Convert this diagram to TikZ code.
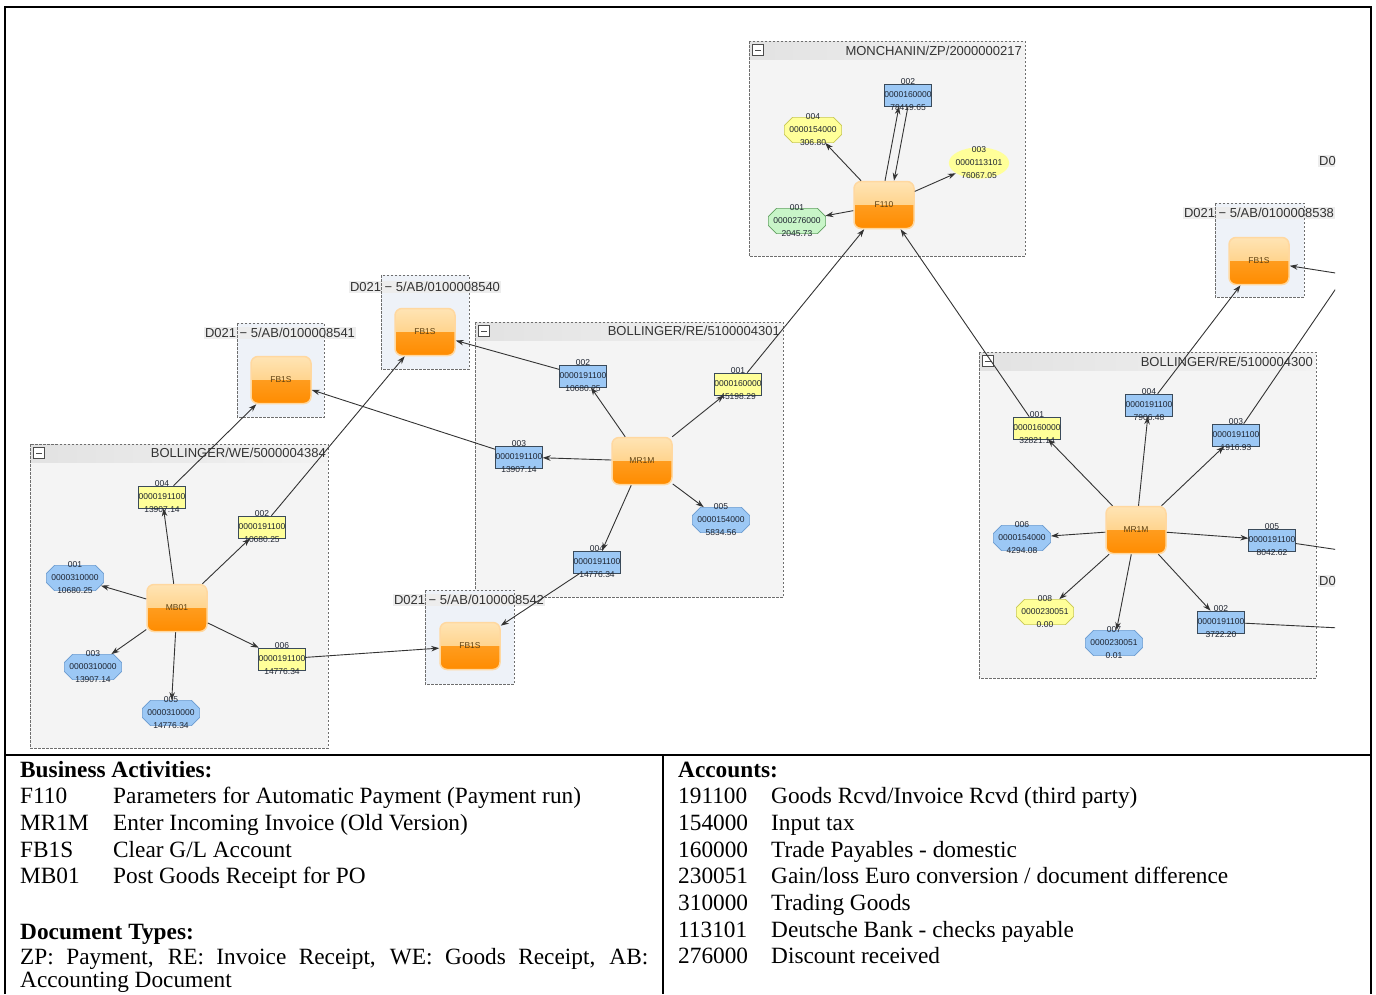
\documentclass[tikz,border=0pt]{standalone}
\usepackage{fontspec}
\setmainfont{Liberation Serif}
\setsansfont{Liberation Sans}
\usetikzlibrary{arrows.meta,shapes.geometric,shapes.misc}
\definecolor{grpfill}{HTML}{F4F4F4}
\definecolor{abfill}{HTML}{EEF2F8}
\definecolor{barleft}{HTML}{E2E2E2}
\definecolor{barright}{HTML}{F2F2F2}
\definecolor{labfill}{HTML}{EDEDED}
\definecolor{grpedge}{HTML}{6E6E6E}
\definecolor{titletext}{HTML}{333333}
\definecolor{accyellow}{HTML}{FFFF99}
\definecolor{accblue}{HTML}{9CC8F5}
\definecolor{accgreen}{HTML}{C8F5C8}
\definecolor{rectedge}{HTML}{3A4A5A}
\definecolor{hexblue}{HTML}{6A9AD0}
\definecolor{hexyellow}{HTML}{C8C850}
\definecolor{hexgreen}{HTML}{60A060}
\definecolor{acctext}{HTML}{1E2430}
\definecolor{acttop}{HTML}{FFE4B4}
\definecolor{actmid}{HTML}{FFC468}
\definecolor{actlow}{HTML}{FF9C1E}
\definecolor{actbot}{HTML}{FF8C00}
\definecolor{actedge}{HTML}{FFD8A0}
\definecolor{acttext}{HTML}{5E4010}
\definecolor{linkcol}{HTML}{333333}
\begin{document}
\begin{tikzpicture}[x=1pt,y=-1pt,>={Stealth[length=8pt,width=5.5pt]},font=\sffamily]
  \tikzset{
    grpbg/.style={fill=grpfill},
    abbg/.style={fill=abfill},
    grpbar/.style={left color=barleft, right color=barright},
    grpline/.style={draw=grpedge, line width=0.6pt, dash pattern=on 2.5pt off 1.5pt},
    foldbox/.style={draw=gray!60!black, fill=white, minimum size=11pt, inner sep=0pt, line width=0.5pt,
      path picture={\draw[line width=0.9pt] ([xshift=2.5pt]path picture bounding box.west) -- ([xshift=-2.5pt]path picture bounding box.east);}},
    grptitle/.style={font=\sffamily\fontsize{13}{13}\selectfont, text=titletext, inner sep=0pt},
    ablabel/.style={grptitle, fill=labfill, inner xsep=1pt, inner ysep=1.5pt},
    act/.style={rounded corners=7pt, minimum width=60pt, minimum height=47pt, inner sep=0pt,
      draw=actedge, line width=1.5pt, text=acttext, font=\sffamily\fontsize{8.5}{9}\selectfont,
      path picture={
        \shade[sharp corners, top color=acttop, bottom color=actmid] (path picture bounding box.north west) rectangle (path picture bounding box.east);
        \shade[sharp corners, top color=actlow, bottom color=actbot] (path picture bounding box.west) rectangle (path picture bounding box.south east);
      }},
    acc/.style={draw=rectedge, line width=0.6pt, inner xsep=0pt, inner ysep=-5pt, align=center,
      text=acctext, font=\sffamily\fontsize{8.5}{13}\selectfont},
    accy/.style={acc, fill=accyellow},
    accb/.style={acc, fill=accblue},
    hexb/.style={acc, chamfered rectangle, chamfered rectangle xsep=5pt, inner ysep=-6.5pt, draw=hexblue, fill=accblue},
    hexy/.style={acc, chamfered rectangle, chamfered rectangle xsep=5pt, inner ysep=-6.5pt, draw=hexyellow, fill=accyellow},
    hexg/.style={acc, chamfered rectangle, chamfered rectangle xsep=5pt, inner ysep=-6.5pt, draw=hexgreen, fill=accgreen},
    ellip/.style={acc, ellipse, draw=none, fill=accyellow, inner xsep=-2pt, inner ysep=-5pt},
    link/.style={draw=linkcol, line width=0.9pt, ->},
    plainlink/.style={draw=linkcol, line width=0.9pt},
    legtext/.style={font=\rmfamily\fontsize{23.3}{26.7}\selectfont, anchor=base west, inner sep=0pt},
  }
  \useasboundingbox (0,0) rectangle (1376,994);

  \begin{scope}
    \clip (5,7) rectangle (1335,755);
    % document groups
    \fill[grpbg] (749,41) rectangle (1025,256);
    \shade[grpbar] (749,41) rectangle (1025,59);
    \draw[grpline] (749,41) rectangle (1025,256);
    \node[foldbox] (zpfold) at (758,50) {};
    \node[grptitle, anchor=east] (zptitle) at (1022,51) {MONCHANIN/ZP/2000000217};

    \fill[grpbg] (475,322) rectangle (783,597);
    \shade[grpbar] (475,322) rectangle (783,340);
    \draw[grpline] (475,322) rectangle (783,597);
    \node[foldbox] (re1fold) at (484,331) {};
    \node[grptitle, anchor=east] (re1title) at (780,331) {BOLLINGER/RE/5100004301};

    \fill[grpbg] (30,444) rectangle (328,748);
    \shade[grpbar] (30,444) rectangle (328,462);
    \draw[grpline] (30,444) rectangle (328,748);
    \node[foldbox] (wefold) at (39,453) {};
    \node[grptitle, anchor=east] (wetitle) at (326,453) {BOLLINGER/WE/5000004384};

    \fill[grpbg] (979,352) rectangle (1316,678);
    \shade[grpbar] (979,352) rectangle (1316,370);
    \draw[grpline] (979,352) rectangle (1316,678);
    \node[foldbox] (re0fold) at (988,361) {};
    \node[grptitle, anchor=east] (re0title) at (1313,362) {BOLLINGER/RE/5100004300};

    \fill[abbg] (381,275) rectangle (469,369);
    \node[ablabel] (ab0label) at (425,287) {D021 − 5/AB/0100008540};
    \draw[grpline] (381,275) rectangle (469,369);

    \fill[abbg] (237,323) rectangle (324,417);
    \node[ablabel] (ab1label) at (280,333) {D021 − 5/AB/0100008541};
    \draw[grpline] (237,323) rectangle (324,417);

    \fill[abbg] (425,590) rectangle (514,684);
    \node[ablabel] (ab2label) at (469,600) {D021 − 5/AB/0100008542};
    \draw[grpline] (425,590) rectangle (514,684);

    \fill[abbg] (1215,203) rectangle (1304,297);
    \node[ablabel] (ab8label) at (1259,213) {D021 − 5/AB/0100008538};
    \draw[grpline] (1215,203) rectangle (1304,297);

    \node[ablabel, anchor=west] (cut1) at (1318,161) {D0};
    \node[ablabel, anchor=west] (cut2) at (1318,581) {D0};

    % activities
    \node[act] (f110) at (884,205) {F110};
    \node[act] (mrA) at (642,461) {MR1M};
    \node[act] (mb01) at (177,608) {MB01};
    \node[act] (mrB) at (1136,530) {MR1M};
    \node[act] (fbA) at (425,332) {FB1S};
    \node[act] (fbB) at (281,380) {FB1S};
    \node[act] (fbC) at (470,646) {FB1S};
    \node[act] (fbD) at (1259,261) {FB1S};

    % line items
    \node[hexg] (z1) at (797,221) {001\\0000276000\\2045.73};
    \node[accb] (z2) at (908,95) {002\\0000160000\\78419.65};
    \node[ellip] (z3) at (979,163) {003\\0000113101\\76067.05};
    \node[hexy] (z4) at (813,130) {004\\0000154000\\306.80};

    \node[accy] (r1) at (738,384) {001\\0000160000\\45198.29};
    \node[accb] (r2) at (583,376) {002\\0000191100\\10680.25};
    \node[accb] (r3) at (519,457) {003\\0000191100\\13907.14};
    \node[accb] (r4) at (597,562) {004\\0000191100\\14776.34};
    \node[hexb] (r5) at (721,520) {005\\0000154000\\5834.56};

    \node[hexb] (w1) at (75,578) {001\\0000310000\\10680.25};
    \node[accy] (w2) at (262,527) {002\\0000191100\\10680.25};
    \node[hexb] (w3) at (93,667) {003\\0000310000\\13907.14};
    \node[accy] (w4) at (162,497) {004\\0000191100\\13907.14};
    \node[hexb] (w5) at (171,713) {005\\0000310000\\14776.34};
    \node[accy] (w6) at (282,659) {006\\0000191100\\14776.34};

    \node[accy] (s1) at (1037,428) {001\\0000160000\\32821.14};
    \node[accb] (s2) at (1221,622) {002\\0000191100\\3722.20};
    \node[accb] (s3) at (1236,435) {003\\0000191100\\1916.93};
    \node[accb] (s4) at (1149,405) {004\\0000191100\\7906.48};
    \node[accb] (s5) at (1272,540) {005\\0000191100\\8042.62};
    \node[hexb] (s6) at (1022,538) {006\\0000154000\\4294.08};
    \node[hexb] (s7) at (1114,643) {007\\0000230051\\0.01};
    \node[hexy] (s8) at (1045,612) {008\\0000230051\\0.00};

    \coordinate (off1) at (1380,224);
    \coordinate (off2) at (1380,280);
    \coordinate (off3) at (1380,556);
    \coordinate (off4) at (1380,630);

    % connectors
    \draw[link] (f110) -- (z1);
    \draw[link] (f110) -- (z3);
    \draw[link] (f110) -- (z4);
    \draw[link] ([xshift=1pt]f110.north) -- ([xshift=-9pt]z2.south);
    \draw[link] ([xshift=0pt]z2.south) -- ([xshift=10pt]f110.north);
    \draw[link] (r1) -- (f110);
    \draw[link] (s1) -- (f110);

    \foreach \k in {1,...,5} \draw[link] (mrA) -- (r\k);
    \draw[link] (r2) -- (fbA);
    \draw[link] (r3) -- (fbB);
    \draw[link] (r4) -- (fbC);

    \foreach \k in {1,...,6} \draw[link] (mb01) -- (w\k);
    \draw[link] (w4) -- (fbB);
    \draw[link] (w2) -- (fbA);
    \draw[link] (w6) -- (fbC);

    \foreach \k in {1,...,8} \draw[link] (mrB) -- (s\k);
    \draw[link] (s4) -- (fbD);
    \draw[link] (off2) -- (fbD);
    \draw[plainlink] (s3) -- (off1);
    \draw[plainlink] (s5) -- (off3);
    \draw[plainlink] (s2) -- (off4);
  \end{scope}

  % frame and legend table
  \draw[line width=2.6pt] (5,994) -- (5,7) -- (1371,7) -- (1371,994);
  \draw[line width=2pt] (5,755) -- (1371,755);
  \draw[line width=2pt] (663,755) -- (663,994);

  \node[legtext, font=\rmfamily\bfseries\fontsize{23.3}{26.7}\selectfont] (bahead) at (20,777) {Business Activities:};
  \foreach \c/\d [count=\i] in {F110/{Parameters for Automatic Payment (Payment run)}, MR1M/{Enter Incoming Invoice (Old Version)}, FB1S/{Clear G/L Account}, MB01/{Post Goods Receipt for PO}} {
    \node[legtext] (bacode\i) at (20,{777+26.7*\i}) {\c};
    \node[legtext] (badesc\i) at (113,{777+26.7*\i}) {\d};
  }
  \node[legtext, font=\rmfamily\bfseries\fontsize{23.3}{26.7}\selectfont] (dthead) at (20,939) {Document Types:};
  \node[legtext, anchor=north west, text width=628pt, align=justify, font=\rmfamily\fontsize{23.3}{23.5}\selectfont] (dttext) at (20,948)
    {ZP: Payment, RE: Invoice Receipt, WE: Goods Receipt, AB:\linebreak Accounting Document};

  \node[legtext, font=\rmfamily\bfseries\fontsize{23.3}{26.7}\selectfont] (achead) at (678,777) {Accounts:};
  \foreach \c/\d [count=\i] in {191100/{Goods Rcvd/Invoice Rcvd (third party)}, 154000/{Input tax}, 160000/{Trade Payables - domestic}, 230051/{Gain/loss Euro conversion / document difference}, 310000/{Trading Goods}, 113101/{Deutsche Bank - checks payable}, 276000/{Discount received}} {
    \node[legtext] (accode\i) at (678,{777+26.7*\i}) {\c};
    \node[legtext] (acdesc\i) at (771,{777+26.7*\i}) {\d};
  }
\end{tikzpicture}
\end{document}
